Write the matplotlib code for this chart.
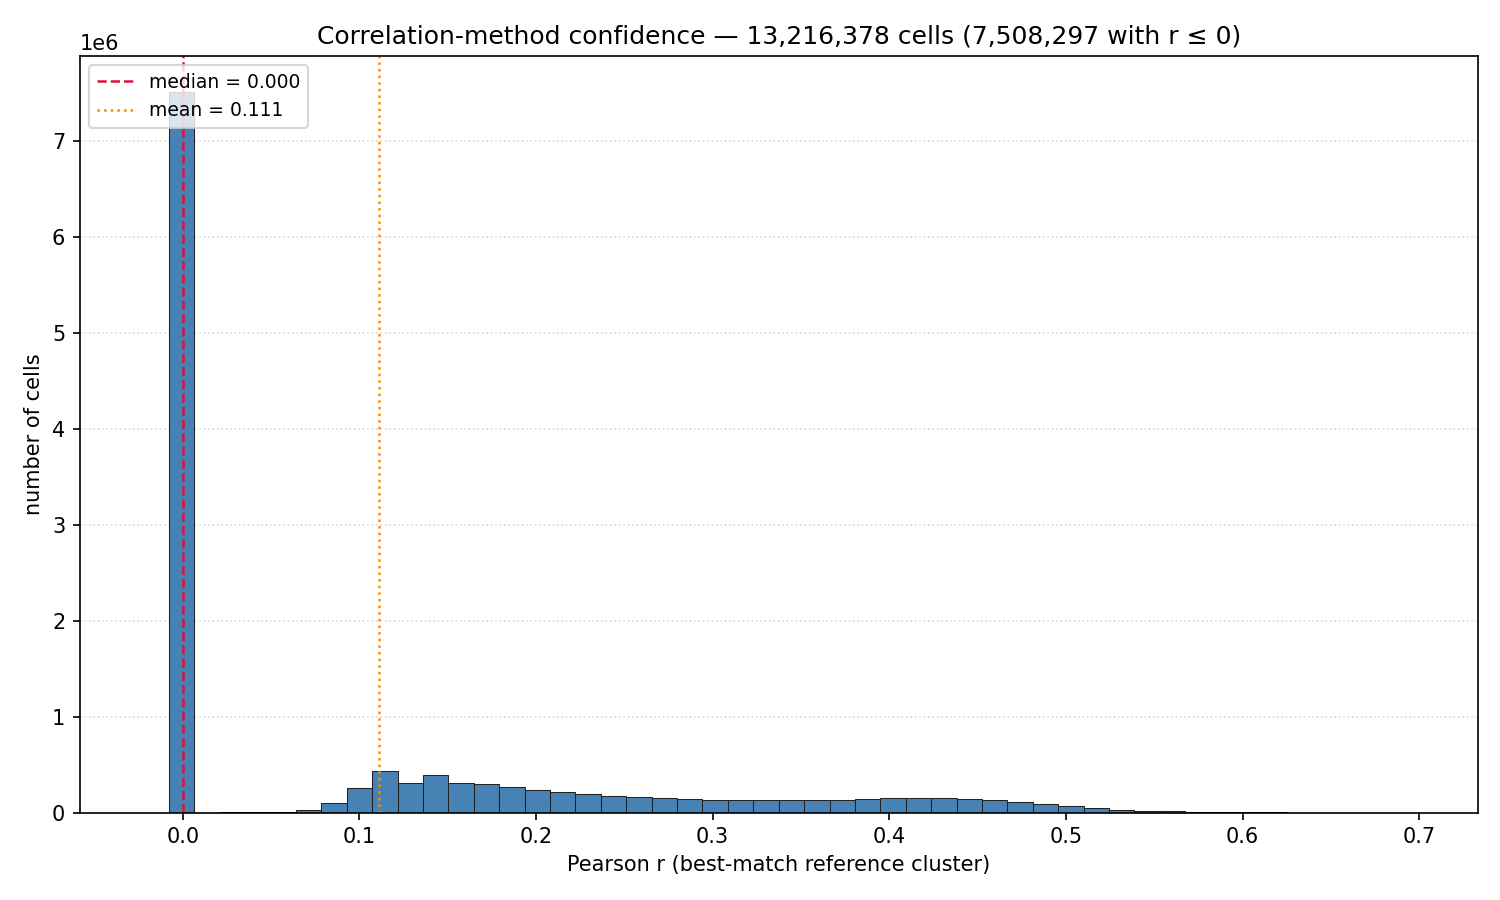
import numpy as np
import matplotlib
matplotlib.use("Agg")
import matplotlib.pyplot as plt

# data
r_min, r_max, n_bins = -0.0222, 0.697, 50
counts = [
    0, 7.507e6, 0, 0.001e6, 0.002e6, 0.004e6, 0.025e6, 0.099e6, 0.255e6, 0.432e6,
    0.307e6, 0.390e6, 0.307e6, 0.297e6, 0.266e6, 0.234e6, 0.214e6, 0.193e6, 0.172e6, 0.161e6,
    0.151e6, 0.141e6, 0.130e6, 0.130e6, 0.130e6, 0.130e6, 0.130e6, 0.130e6, 0.141e6, 0.151e6,
    0.151e6, 0.151e6, 0.141e6, 0.130e6, 0.110e6, 0.092e6, 0.068e6, 0.047e6, 0.026e6, 0.016e6,
    0.011e6, 0.006e6, 0.004e6, 0.002e6, 0.001e6, 0, 0, 0, 0, 0,
]
median_r = 0.000
mean_r = 0.111
n_cells = 13216378
n_nonpos = 7508297

edges = np.linspace(r_min, r_max, n_bins + 1)
centers = 0.5 * (edges[:-1] + edges[1:])

fig, ax = plt.subplots(figsize=(10, 6), dpi=150)
fig.subplots_adjust(left=0.0533, right=0.985, top=0.9378, bottom=0.0972)

ax.hist(centers, bins=edges, weights=counts, color="steelblue",
        edgecolor="#222222", linewidth=0.5)
ax.axvline(median_r, color="crimson", linestyle="--", linewidth=1.2,
           label=f"median = {median_r:.3f}")
ax.axvline(mean_r, color="darkorange", linestyle=":", linewidth=1.2,
           label=f"mean = {mean_r:.3f}")

ax.grid(axis="y", linestyle=":", alpha=0.5)
ax.set_axisbelow(True)
ax.set_xlabel("Pearson r (best-match reference cluster)")
ax.set_ylabel("number of cells")
ax.set_title(f"Correlation-method confidence — {n_cells:,} cells ({n_nonpos:,} with r ≤ 0)")
ax.legend(loc="upper left", fontsize=9)

fig.savefig("out.png", dpi=150)
